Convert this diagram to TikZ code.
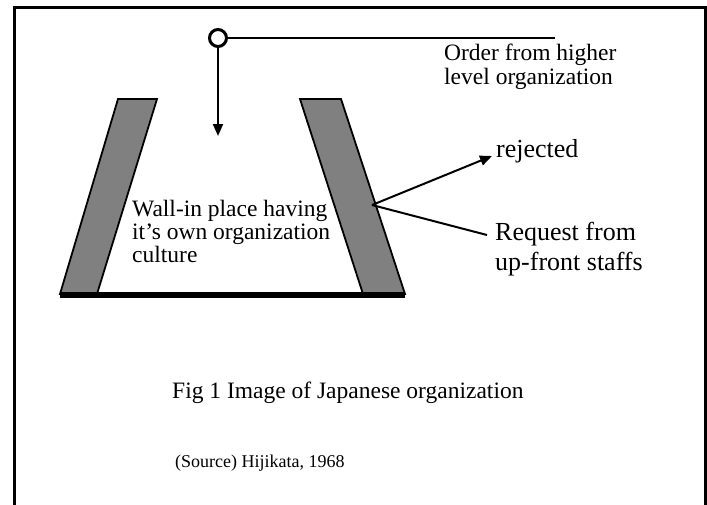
\documentclass[tikz,border=0pt]{standalone}
\usepackage{fontspec}
\setmainfont{Liberation Serif}
\usetikzlibrary{arrows.meta}
\begin{document}
\begin{tikzpicture}[x=1pt,y=-1pt,
  wall/.style={fill={rgb,255:red,128;green,128;blue,128},draw=black,line width=1.8pt,line join=miter},
  conn/.style={draw=black,line width=2pt},
  tip/.style={-{Triangle[length=12pt,width=10pt]}},
  lbl/.style={anchor=base west,inner sep=0pt,font=\fontsize{23.5}{27}\selectfont},
  biglbl/.style={anchor=base west,inner sep=0pt,font=\fontsize{26}{30}\selectfont},
  srclbl/.style={anchor=base west,inner sep=0pt,font=\fontsize{18}{21}\selectfont}]
\useasboundingbox (0,0) rectangle (707,504);
% open frame
\draw[line width=3pt] (14,506) -- (14,7) -- (705,7) -- (705,506);
% the two slanted walls and the floor
\draw[wall] (118,99) -- (157,99) -- (97,294) -- (60,294) -- cycle;
\draw[wall] (300,99) -- (341,99) -- (405,294) -- (363,294) -- cycle;
\draw[line width=5.5pt] (60,295) -- (405,295);
% order coming down from above
\node[circle,draw,line width=3pt,minimum size=17pt,inner sep=0pt,fill=white] (src) at (218,38) {};
\coordinate (orderend) at (555,38);
\coordinate (down) at (218,136);
\draw[conn] (src) -- (orderend);
\draw[conn,tip] (src) -- (down);
% request hitting the wall
\coordinate (hit) at (372,205);
\coordinate (rej) at (492,156);
\coordinate (req) at (487,235);
\draw[conn,tip] (hit) -- (rej);
\draw[conn] (hit) -- (req);
% labels
\node[lbl] (order1) at (444,60) {Order from higher};
\node[lbl] (order2) at (444,84) {level organization};
\node[biglbl] (rejected) at (496,157) {rejected};
\node[biglbl] (request1) at (495,240) {Request from};
\node[biglbl] (request2) at (495,270) {up-front staffs};
\node[lbl] (wall1) at (132,216) {Wall-in place having};
\node[lbl] (wall2) at (132,239) {it’s own organization};
\node[lbl] (wall3) at (132,262) {culture};
\node[lbl] (fig) at (172,398) {Fig 1 Image of Japanese organization};
\node[srclbl] (source) at (175,467) {(Source) Hijikata, 1968};
\end{tikzpicture}
\end{document}
